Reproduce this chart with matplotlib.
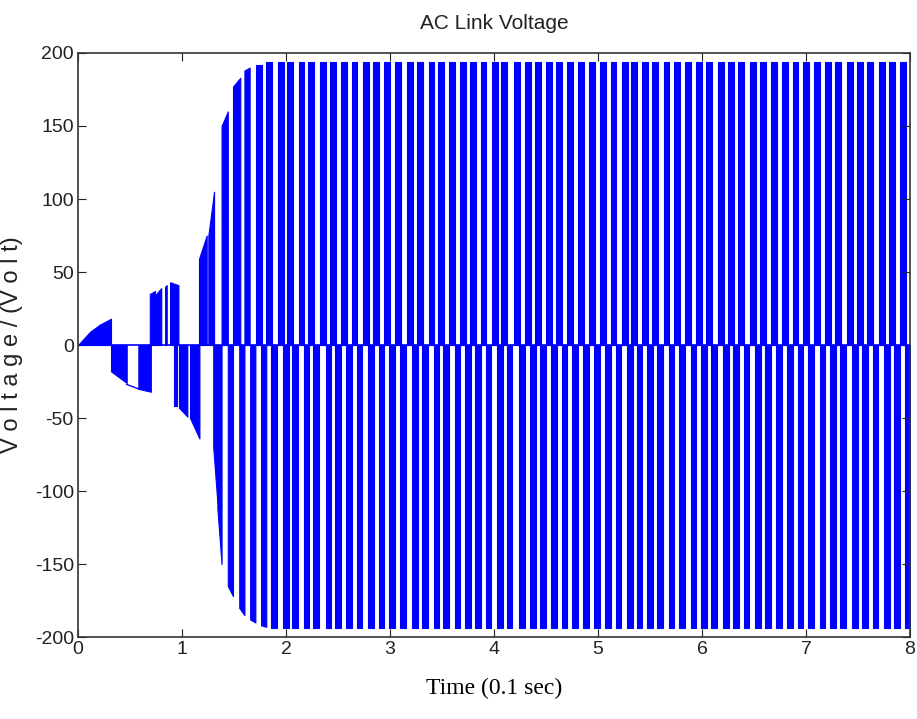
import matplotlib
matplotlib.use('Agg')
import matplotlib.pyplot as plt

# ---- data (time in units of 0.1 s, voltage in V) ----
# transient blocks: start time, end time, level at start, level at end
blk_t0 = [0.0, 0.115, 0.21, 0.317, 0.58, 0.69, 0.74, 0.837, 0.885, 0.923, 0.971, 1.077,
          1.163, 1.253, 1.30, 1.34, 1.38, 1.44, 1.49, 1.55, 1.60, 1.655, 1.71, 1.76]
blk_t1 = [0.115, 0.21, 0.317, 0.468, 0.70, 0.74, 0.80, 0.853, 0.965, 0.949, 1.051, 1.167,
          1.237, 1.308, 1.34, 1.38, 1.44, 1.49, 1.56, 1.60, 1.65, 1.705, 1.77, 1.81]
blk_v0 = [0, 9, 14, -18, -30, 35, 34, 40, 43, -42, -43, -50,
          59, 75, -70, -112, 150, -165, 177, -180, 188, -188, 192, -192]
blk_v1 = [9, 14, 18, -26, -32, 37, 39, 41, 41, -42, -49, -64,
          75, 105, -108, -150, 160, -172, 183, -185, 190, -190, 192, -193]

# constant (non-switching) stretch drawn as a line
line_t = [0.468, 0.58]
line_v = [-27, -30]

# steady-state pulses
pos_start = [1.81, 1.92, 2.01, 2.12, 2.21, 2.33, 2.42, 2.53, 2.63, 2.74, 2.84, 2.94, 3.05,
             3.16, 3.26, 3.37, 3.46, 3.57, 3.67, 3.77, 3.87, 3.98, 4.07, 4.19, 4.30,
             4.39, 4.50, 4.60, 4.70, 4.81, 4.91, 5.02, 5.12, 5.23, 5.32, 5.42,
             5.52, 5.63, 5.73, 5.84, 5.94, 6.04, 6.15, 6.25, 6.35, 6.46, 6.56,
             6.66, 6.77, 6.87, 6.97, 7.08, 7.18, 7.28, 7.39, 7.49, 7.59, 7.70, 7.80, 7.90]
pos_end = [1.867, 1.977, 2.067, 2.177, 2.267, 2.387, 2.477, 2.587, 2.687, 2.797, 2.897, 2.997, 3.107,
           3.217, 3.317, 3.427, 3.517, 3.627, 3.727, 3.827, 3.927, 4.037, 4.127, 4.247, 4.357,
           4.447, 4.557, 4.657, 4.757, 4.867, 4.967, 5.077, 5.177, 5.287, 5.377, 5.477,
           5.577, 5.687, 5.787, 5.897, 5.997, 6.097, 6.207, 6.307, 6.407, 6.517, 6.617,
           6.717, 6.827, 6.927, 7.027, 7.137, 7.237, 7.337, 7.447, 7.547, 7.647, 7.757, 7.857, 7.957]
neg_start = [1.86, 1.97, 2.06, 2.17, 2.26, 2.38, 2.47, 2.58, 2.68, 2.79, 2.89, 2.99, 3.10,
             3.21, 3.31, 3.42, 3.51, 3.62, 3.72, 3.82, 3.92, 4.03, 4.12, 4.24, 4.35,
             4.44, 4.55, 4.65, 4.75, 4.86, 4.96, 5.07, 5.17, 5.28, 5.37, 5.47,
             5.57, 5.68, 5.78, 5.89, 5.99, 6.09, 6.20, 6.30, 6.40, 6.51, 6.61,
             6.71, 6.82, 6.92, 7.02, 7.13, 7.23, 7.33, 7.44, 7.54, 7.64, 7.75, 7.85, 7.95]
neg_end = [1.915, 2.025, 2.115, 2.225, 2.315, 2.435, 2.525, 2.635, 2.735, 2.845, 2.945, 3.045, 3.155,
           3.265, 3.365, 3.475, 3.565, 3.675, 3.775, 3.875, 3.975, 4.085, 4.175, 4.295, 4.405,
           4.495, 4.605, 4.705, 4.805, 4.915, 5.015, 5.125, 5.225, 5.335, 5.425, 5.525,
           5.625, 5.735, 5.835, 5.945, 6.045, 6.145, 6.255, 6.355, 6.455, 6.565, 6.665,
           6.765, 6.875, 6.975, 7.075, 7.185, 7.285, 7.385, 7.495, 7.595, 7.695, 7.805, 7.905, 8.005]
steady_peak = 194

x_ticks = [0, 1, 2, 3, 4, 5, 6, 7, 8]
y_ticks = [-200, -150, -100, -50, 0, 50, 100, 150, 200]

BLUE = '#0000ff'
SANS = ['Liberation Sans', 'DejaVu Sans']

fig = plt.figure(figsize=(9.17, 7.19), dpi=100)
ax = fig.add_axes([0.0851, 0.1140, 0.9073, 0.8123])

def block(t0, t1, v0, v1):
    ax.fill_between([t0, t1], [v0, v1], 0, facecolor=BLUE, edgecolor=BLUE, linewidth=0.8)

for t0, t1, v0, v1 in zip(blk_t0, blk_t1, blk_v0, blk_v1):
    block(t0, t1, v0, v1)
for t0, t1 in zip(pos_start, pos_end):
    block(t0, t1, steady_peak, steady_peak)
for t0, t1 in zip(neg_start, neg_end):
    block(t0, t1, -steady_peak, -steady_peak)

ax.plot(line_t, line_v, color=BLUE, lw=1.0)
ax.plot([0, 8], [0, 0], color=BLUE, lw=1.2)

ax.set_xlim(0, 8)
ax.set_ylim(-200, 200)
ax.set_xticks(x_ticks)
ax.set_yticks(y_ticks)
ax.set_xticklabels([str(v) for v in x_ticks], family=SANS, fontsize=14)
ax.set_yticklabels([str(v) for v in y_ticks], family=SANS, fontsize=14)
ax.tick_params(direction='in', length=6, width=0.8, top=True, right=True,
               colors='#222222', pad=3)
for s in ax.spines.values():
    s.set_linewidth(1.2)
    s.set_color('#333333')

ax.set_title('AC Link Voltage', family=SANS, fontsize=15, pad=17, color='#222222')
ax.set_xlabel('Time (0.1 sec)', family=['Liberation Serif', 'DejaVu Serif'], fontsize=17, labelpad=14)
ax.set_ylabel('V o l t a g e / (V o l t)', family=SANS, fontsize=17, color='#222222')
ax.yaxis.set_label_coords(-0.066, 0.5)

fig.savefig('out.png', dpi=100)
